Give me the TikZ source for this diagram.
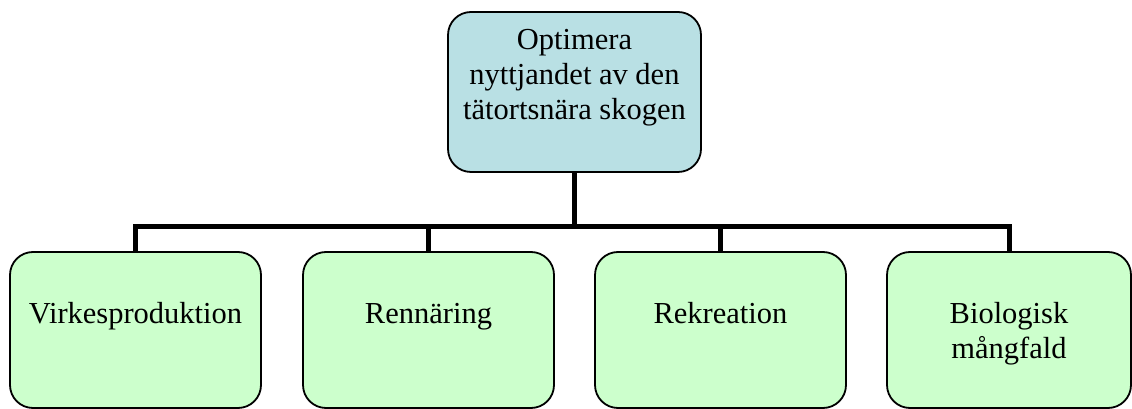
\documentclass[tikz,border=0pt]{standalone}
\usepackage{fontspec}
\setmainfont{Liberation Serif}
\definecolor{topfill}{RGB}{185,224,228}
\definecolor{subfill}{RGB}{204,255,204}
\tikzset{
  box/.style={draw=black, line width=1.8pt, rounded corners=23pt, inner sep=0pt,
    font=\fontsize{30.5}{35}\selectfont},
  topbox/.style={box, fill=topfill, minimum width=253pt, minimum height=160pt,
    text height=10pt, text depth=94pt},
  subbox/.style={box, fill=subfill, minimum width=251pt, minimum height=156pt,
    text height=10pt, text depth=22pt},
  conn/.style={line width=5pt, black}
}
\begin{document}
\begin{tikzpicture}[x=1pt,y=1pt]
\useasboundingbox (0,0) rectangle (1132,409);
\node[topbox] (top) at (574.5,317) {\begin{tabular}[t]{@{}c@{}}Optimera\\nyttjandet av den\\tätortsnära skogen\end{tabular}};
\node[subbox] (b1) at (135.5,79) {Virkesproduktion};
\node[subbox] (b2) at (428.5,79) {Rennäring};
\node[subbox] (b3) at (720.5,79) {Rekreation};
\node[subbox, minimum width=244pt] (b4) at (1009,79) {\begin{tabular}[t]{@{}c@{}}Biologisk\\mångfald\end{tabular}};
\coordinate (bar) at (574.5,182);
\draw[conn] (top.south) -- (top.south |- bar);
\draw[conn] (b1.north) -- (b1.north |- bar) -- (b4.north |- bar) -- (b4.north);
\draw[conn] (b2.north) -- (b2.north |- bar);
\draw[conn] (b3.north) -- (b3.north |- bar);
\end{tikzpicture}
\end{document}
